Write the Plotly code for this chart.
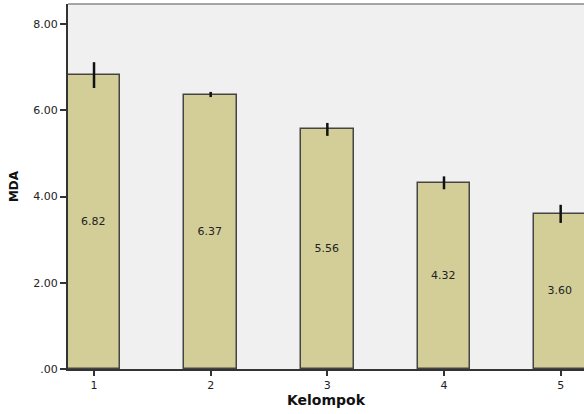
import plotly.graph_objects as go

# Mean MDA per group with error margins
kelompok = [1, 2, 3, 4, 5]
mda_mean = [6.82, 6.37, 5.56, 4.32, 3.60]
mda_err = [0.30, 0.06, 0.15, 0.15, 0.21]
y_tickvals = [0, 2, 4, 6, 8]
y_ticktext = [".00", "2.00", "4.00", "6.00", "8.00"]

FONT = "DejaVu Sans, Verdana, sans-serif"

fig = go.Figure()
fig.add_trace(go.Bar(
    x=kelompok,
    y=mda_mean,
    width=0.45,
    marker=dict(color="#d3ce98", line=dict(color="#444444", width=1.5)),
    text=[f"{v:.2f}" for v in mda_mean],
    textposition="inside",
    insidetextanchor="middle",
    textangle=0,
    textfont=dict(family=FONT, size=11, color="#222222"),
    error_y=dict(type="data", array=mda_err, visible=True,
                 color="#111111", thickness=2.5, width=0),
    showlegend=False,
))

# thin grey frame along the top of the plotting area
fig.add_shape(type="line", xref="paper", yref="paper",
              x0=0, x1=1, y0=1, y1=1,
              line=dict(color="#8a8a8a", width=1.5))

fig.update_layout(
    width=584, height=414,
    margin=dict(l=68, r=0, t=4, b=45),
    paper_bgcolor="white",
    plot_bgcolor="#f0f0f0",
    font=dict(family=FONT, size=11, color="#222222"),
    bargap=0,
)
fig.update_xaxes(
    range=[0.777, 5.2],
    tickvals=kelompok,
    ticktext=[str(k) for k in kelompok],
    ticks="outside", ticklen=5, tickwidth=1.5, tickcolor="#333333",
    showline=True, linecolor="#333333", linewidth=1.5,
    showgrid=False, zeroline=False,
    title=dict(text="<b>Kelompok</b>", font=dict(family=FONT, size=14, color="#111111"), standoff=4),
    tickfont=dict(size=11),
)
fig.update_yaxes(
    range=[0, 8.47],
    tickvals=y_tickvals,
    ticktext=y_ticktext,
    ticks="outside", ticklen=6, tickwidth=1.5, tickcolor="#333333",
    showline=True, linecolor="#333333", linewidth=2,
    showgrid=False, zeroline=False,
    title=dict(text="<b>MDA</b>", font=dict(family=FONT, size=12, color="#111111"), standoff=12),
    tickfont=dict(size=11),
)

fig.write_html("out.html")
